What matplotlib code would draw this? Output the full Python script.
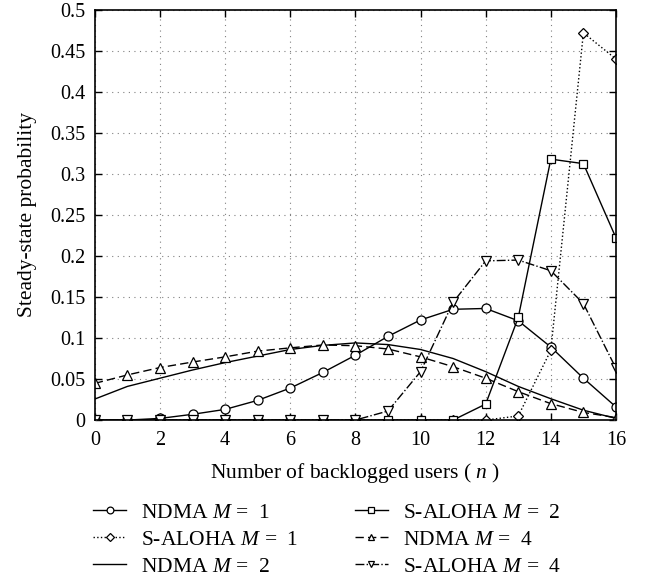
import matplotlib
matplotlib.use("Agg")
import matplotlib.pyplot as plt
import numpy as np

plt.rcParams['font.family'] = ['Liberation Serif', 'DejaVu Serif']
plt.rcParams['mathtext.fontset'] = 'custom'
plt.rcParams['mathtext.rm'] = 'Liberation Serif'
plt.rcParams['mathtext.it'] = 'Liberation Serif:italic'

n = list(range(17))
ndma_m1 = [0.0, 0.0, 0.002, 0.007, 0.013, 0.024, 0.039, 0.058, 0.079, 0.102, 0.122, 0.135, 0.136, 0.121, 0.089, 0.051, 0.016]
saloha_m1 = [0, 0, 0, 0, 0, 0, 0, 0, 0, 0, 0, 0, 0, 0.005, 0.085, 0.472, 0.44]
ndma_m2 = [0.0256, 0.041, 0.051, 0.061, 0.070, 0.078, 0.086, 0.091, 0.094, 0.092, 0.086, 0.075, 0.059, 0.041, 0.026, 0.012, 0.002]
saloha_m2 = [0, 0, 0, 0, 0, 0, 0, 0, 0, 0, 0, 0, 0.0195, 0.125, 0.318, 0.3125, 0.222]
ndma_m4 = [0.0447, 0.055, 0.064, 0.0707, 0.077, 0.084, 0.088, 0.0915, 0.0906, 0.0866, 0.077, 0.065, 0.051, 0.0346, 0.020, 0.0093, 0.003]
saloha_m4 = [0, 0, 0, 0, 0, 0, 0, 0, 0, 0.011, 0.059, 0.1435, 0.194, 0.195, 0.182, 0.142, 0.063]

labels = [r"NDMA $M$ =  1", r"S-ALOHA $M$ =  1", r"NDMA $M$ =  2",
          r"S-ALOHA $M$ =  2", r"NDMA $M$ =  4", r"S-ALOHA $M$ =  4"]
yticklabels = ['0', '0.05', '0.1', '0.15', '0.2', '0.25', '0.3', '0.35', '0.4', '0.45', '0.5']

fig = plt.figure(figsize=(6.45, 5.77), dpi=100)
ax = fig.add_axes([0.147, 0.272, 0.808, 0.711])

mk = dict(markersize=6.5, markerfacecolor='white', markeredgecolor='black', markeredgewidth=0.9, color='black', linewidth=1.0)
ax.plot(n, ndma_m1, '-', marker='o', label=labels[0], **mk)
ax.plot(n, saloha_m1, ':', marker='D', label=labels[1], **{**mk, 'markersize': 5.5})
ax.plot(n, ndma_m2, '-', label=labels[2], color='black', linewidth=1.0)
ax.plot(n, saloha_m2, '-', marker='s', label=labels[3], **{**mk, 'markersize': 5.5})
ax.plot(n, ndma_m4, '--', marker='^', label=labels[4], dashes=(6, 3), **mk)
ax.plot(n, saloha_m4, '-.', marker='v', label=labels[5], **mk)

ax.set_xlim(0, 16)
ax.set_ylim(0, 0.5)
ax.set_xticks(range(0, 17, 2))
ax.set_yticks(np.arange(0, 0.51, 0.05))
ax.set_yticklabels(yticklabels)
ax.grid(True, linestyle=(0, (1, 4)), color='gray', linewidth=0.8)
ax.tick_params(direction='in', top=True, right=True, labelsize=14.5, length=5, width=1)
ax.tick_params(axis='x', pad=8)
ax.tick_params(axis='y', pad=7)
for s in ax.spines.values():
    s.set_linewidth(1.2)

ax.set_xlabel(r"Number of backlogged users ( $n$ )", fontsize=15.5, labelpad=8)
ax.set_ylabel("Steady-state probability", fontsize=15.5, labelpad=9)

fig.legend(loc='upper left', bbox_to_anchor=(0.144, 0.129), ncol=2, frameon=False,
           fontsize=15.5, handlelength=1.55, columnspacing=2.6, labelspacing=0.32,
           handletextpad=0.7, borderaxespad=0, borderpad=0, markerscale=0.75)

fig.savefig('out.png', dpi=100)
